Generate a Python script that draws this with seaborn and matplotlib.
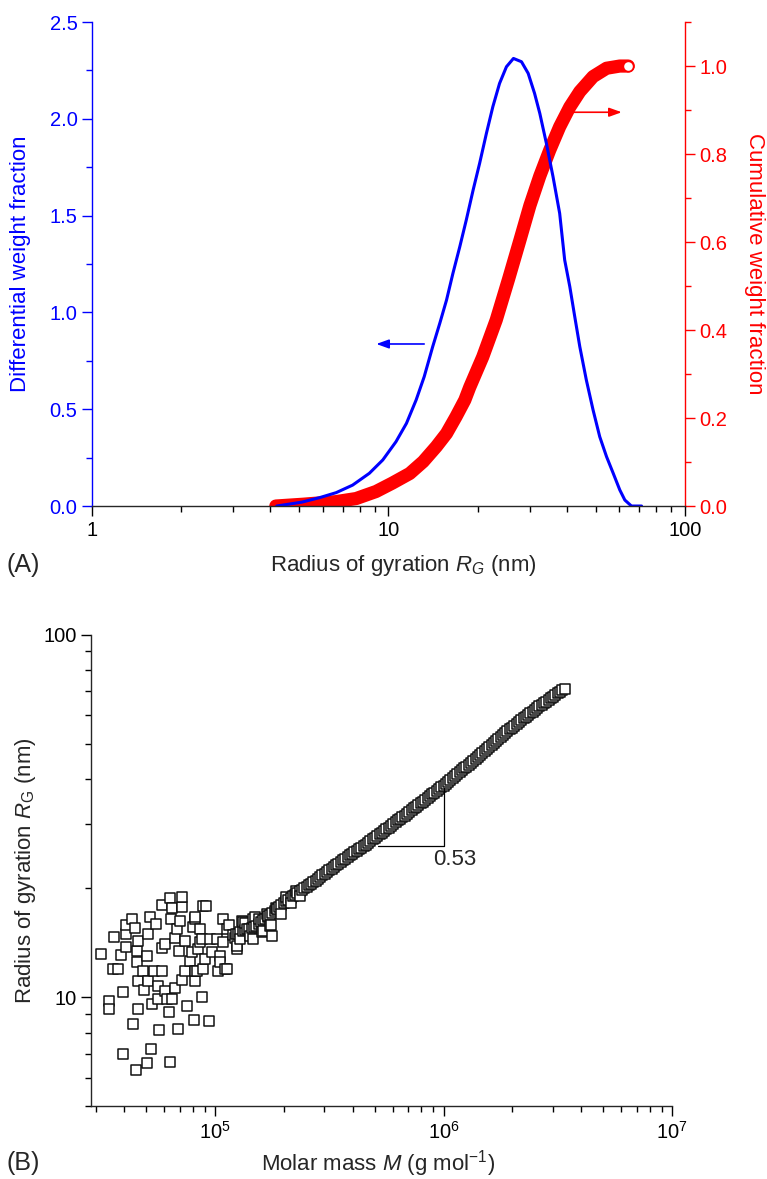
import numpy as np
import pandas as pd
import seaborn as sns
import matplotlib
matplotlib.use('Agg')
from matplotlib import pyplot as plt
from matplotlib import ticker

# (A) size distribution
diff_rg = [4.2, 5.1, 5.85, 6.66, 7.57, 8.62, 9.57, 10.6, 11.5, 12.4,
           13.2, 14.1, 14.9, 15.7, 16.5, 17.4, 18.3, 19.3, 20.3, 21.4,
           22.5, 23.7, 25.0, 26.4, 28.1, 29.6, 31.1, 32.4, 34.1, 35.9,
           37.8, 39.3, 40.9, 42.5, 44.2, 46.5, 49.0, 51.6, 54.4, 57.3,
           60.3, 62.7, 66.0, 71.4]
diff_w = [0.0, 0.02, 0.043, 0.069, 0.108, 0.169, 0.238, 0.332, 0.427, 0.548,
          0.668, 0.823, 0.944, 1.064, 1.202, 1.339, 1.477, 1.632, 1.770, 1.925,
          2.063, 2.183, 2.269, 2.312, 2.295, 2.235, 2.132, 2.028, 1.873, 1.701,
          1.512, 1.271, 1.133, 0.978, 0.823, 0.651, 0.496, 0.358, 0.255, 0.169,
          0.083, 0.031, 0.0, 0.0]
cum_rg = [4.17, 5.13, 6.66, 7.78, 9.08, 10.3, 11.8, 13.1, 14.5, 15.7,
          16.9, 18.1, 18.8, 20.8, 23.1, 25.4, 27.7, 30.0, 32.4, 35.0,
          37.8, 40.9, 44.2, 49.0, 54.4, 60.3, 64.4]
cum_w = [0.0, 0.004, 0.010, 0.017, 0.033, 0.052, 0.074, 0.101, 0.135, 0.165,
         0.203, 0.241, 0.270, 0.339, 0.423, 0.515, 0.602, 0.683, 0.750, 0.809,
         0.862, 0.907, 0.942, 0.976, 0.995, 1.0, 1.0]

# (B) conformation plot: scattered low-mass slices
cloud_mass = [3.15e4, 3.59e4, 3.86e4, 3.58e4, 3.77e4, 3.97e4, 3.42e4, 3.44e4, 4.07e4, 4.07e4,
              4.08e4, 4.31e4, 4.46e4, 4.61e4, 4.56e4, 4.57e4, 4.61e4, 4.90e4, 5.10e4, 5.19e4,
              5.50e4, 5.01e4, 4.82e4, 5.10e4, 5.42e4, 5.84e4, 5.61e4, 6.04e4, 6.14e4, 5.64e4,
              5.31e4, 4.61e4, 4.36e4, 5.67e4, 6.85e4, 6.28e4, 7.51e4, 8.11e4, 8.74e4, 3.96e4,
              4.50e4, 5.05e4, 5.22e4, 6.35e4, 5.84e4, 6.35e4, 7.14e4, 7.14e4, 6.50e4, 6.41e4,
              7.02e4, 6.79e4, 6.68e4, 6.95e4, 5.87e4, 6.04e4, 7.38e4, 8.03e4, 8.17e4, 8.89e4,
              8.74e4, 7.91e4, 7.77e4, 7.38e4, 7.14e4, 8.17e4, 8.17e4, 6.68e4, 6.50e4, 8.59e4,
              8.45e4, 9.04e4,
              9.13e4, 9.4e4, 1.08e5, 1.13e5, 1.02e5, 1.05e5, 1.13e5, 1.03e5, 1.33e5, 1.29e5,
              1.25e5, 1.47e5, 1.47e5, 1.61e5, 1.74e5, 1.87e5, 1.78e5, 8.17e4, 1.31e5, 1.50e5,
              1.71e5, 1.25e5, 1.08e5, 9.5e4, 8.6e4, 9.7e4, 1.05e5, 8.86e4, 8.3e4, 1.10e5,
              1.15e5, 1.22e5, 1.35e5, 1.42e5, 1.56e5, 1.62e5, 1.69e5, 1.76e5, 1.85e5, 1.95e5,
              2.05e5, 2.15e5, 2.25e5, 2.35e5]
cloud_rg = [13.2, 14.7, 13.1, 12.0, 12.0, 10.35, 9.8, 9.26, 13.8, 14.95,
            15.8, 16.4, 15.5, 14.3, 13.4, 12.5, 11.1, 10.45, 14.95, 16.7,
            15.9, 13.0, 11.8, 11.1, 11.8, 11.8, 10.75, 10.4, 9.9, 9.9,
            9.56, 9.26, 8.42, 8.12, 8.2, 9.13, 9.46, 8.65, 10.0, 6.98,
            6.29, 6.6, 7.21, 6.62, 18.0, 18.8, 18.9, 17.8, 17.6, 16.5,
            16.2, 15.4, 14.6, 13.4, 13.7, 14.0, 14.3, 15.6, 16.4, 17.9,
            14.5, 13.3, 12.6, 11.8, 11.2, 11.8, 11.1, 10.6, 9.9, 15.4,
            13.6, 12.8,
            17.9, 8.58, 16.4, 15.4, 14.5, 13.0, 12.0, 11.8, 16.1, 14.5,
            13.6, 14.5, 16.4, 15.1, 15.7, 17.5, 14.8, 16.7, 16.2, 16.7,
            16.8, 13.9, 14.2, 14.5, 14.2, 13.3, 12.5, 12.0, 11.8, 12.0,
            15.8, 14.6, 16.0, 14.8, 16.4, 15.2, 17.0, 15.8, 17.6, 17.0,
            18.9, 18.2, 19.6, 19.0]

# (B) tight power-law band, molar mass in units of 1e5 g/mol
band_mass_e5 = [1.202, 1.230,
                1.259, 1.288, 1.318, 1.349, 1.380, 1.413, 1.445, 1.479, 1.514, 1.549,
                1.585, 1.622, 1.660, 1.698, 1.738, 1.778, 1.820, 1.862, 1.905, 1.950,
                1.995, 2.042, 2.089, 2.138, 2.188, 2.239, 2.291, 2.344, 2.399, 2.455,
                2.512, 2.570, 2.630, 2.692, 2.754, 2.818, 2.884, 2.951, 3.020, 3.090,
                3.162, 3.236, 3.311, 3.388, 3.467, 3.548, 3.631, 3.715, 3.802, 3.890,
                3.981, 4.074, 4.169, 4.266, 4.365, 4.467, 4.571, 4.677, 4.786, 4.898,
                5.012, 5.129, 5.248, 5.370, 5.495, 5.623, 5.754, 5.888, 6.026, 6.166,
                6.310, 6.457, 6.607, 6.761, 6.918, 7.079, 7.244, 7.413, 7.586, 7.762,
                7.943, 8.128, 8.318, 8.511, 8.710, 8.913, 9.120, 9.333, 9.550, 9.772,
                10.00, 10.23, 10.47, 10.72, 10.96, 11.22, 11.48, 11.75, 12.02, 12.30,
                12.59, 12.88, 13.18, 13.49, 13.80, 14.13, 14.45, 14.79, 15.14, 15.49,
                15.85, 16.22, 16.60, 16.98, 17.38, 17.78, 18.20, 18.62, 19.05, 19.50,
                19.95, 20.42, 20.89, 21.38, 21.88, 22.39, 22.91, 23.44, 23.99, 24.55,
                25.12, 25.70, 26.30, 26.92, 27.54, 28.18, 28.84, 29.51, 30.20, 30.90,
                31.62, 32.36, 33.11, 33.88]
band_rg = [14.9, 14.95,
           15.0, 15.1, 15.2, 15.3, 15.4, 15.45, 15.5, 15.6, 15.7, 15.9,
           16.1, 16.3, 16.5, 16.7, 16.9, 17.1, 17.3, 17.55, 17.8, 18.0,
           18.2, 18.4, 18.6, 18.8, 19.0, 19.2, 19.4, 19.6, 19.8, 20.0,
           20.2, 20.4, 20.6, 20.8, 21.0, 21.25, 21.5, 21.7, 21.9, 22.15,
           22.4, 22.65, 22.9, 23.15, 23.4, 23.65, 23.9, 24.15, 24.4, 24.65,
           24.9, 25.15, 25.4, 25.65, 25.9, 26.15, 26.4, 26.7, 27.0, 27.3,
           27.6, 27.9, 28.2, 28.5, 28.8, 29.1, 29.4, 29.75, 30.1, 30.45,
           30.8, 31.1, 31.4, 31.75, 32.1, 32.45, 32.8, 33.2, 33.6, 33.95,
           34.3, 34.7, 35.1, 35.5, 35.9, 36.3, 36.7, 37.1, 37.5, 37.95,
           38.4, 38.85, 39.3, 39.8, 40.3, 40.8, 41.3, 41.8, 42.3, 42.8,
           43.3, 43.85, 44.4, 44.95, 45.5, 46.1, 46.7, 47.25, 47.8, 48.4,
           49.0, 49.65, 50.3, 50.95, 51.6, 52.25, 52.9, 53.55, 54.2, 54.85,
           55.5, 56.2, 56.9, 57.55, 58.2, 58.85, 59.5, 60.15, 60.8, 61.45,
           62.1, 62.8, 63.5, 64.15, 64.8, 65.5, 66.2, 66.9, 67.6, 68.3,
           69.0, 69.7, 70.4, 71.0]

slope_label = '0.53'

BLUE = '#0000ff'
RED = '#ff0000'
TICK_SIZE = 14.5
LABEL_SIZE = 16
PANEL_SIZE = 18

sns.set_style('ticks')
plt.rcParams['font.family'] = ['Liberation Sans', 'DejaVu Sans']
plt.rcParams['mathtext.fontset'] = 'custom'
plt.rcParams['mathtext.rm'] = 'Liberation Sans'
plt.rcParams['mathtext.it'] = 'Liberation Sans:italic'
plt.rcParams['font.size'] = LABEL_SIZE
plt.rcParams['xtick.labelsize'] = TICK_SIZE
plt.rcParams['ytick.labelsize'] = TICK_SIZE
plt.rcParams['axes.labelsize'] = LABEL_SIZE
plt.rcParams['axes.linewidth'] = 1.0

fig = plt.figure(figsize=(7.67, 11.79), dpi=100)

# ---- panel A
ax = fig.add_axes([0.1199, 0.5708, 0.7731, 0.4105])
ax2 = ax.twinx()
ax.set_zorder(2)
ax2.set_zorder(1)
ax.patch.set_visible(False)

sns.lineplot(x=cum_rg, y=cum_w, ax=ax2, color=RED, linewidth=9.5, errorbar=None,
             solid_capstyle='round', solid_joinstyle='round')
sns.scatterplot(x=cum_rg[-1:], y=cum_w[-1:], ax=ax2, marker='o', s=55, color='white',
                edgecolor=RED, linewidth=1.2, zorder=5)
sns.lineplot(x=diff_rg, y=diff_w, ax=ax, color=BLUE, linewidth=2.2, errorbar=None,
             solid_joinstyle='round')

ax.set_xscale('log')
ax.set_xlim(1, 100)
ax.set_ylim(0, 2.5)
ax2.set_ylim(0, 1.1)

ax.xaxis.set_major_locator(ticker.LogLocator(base=10))
ax.xaxis.set_major_formatter(ticker.FuncFormatter(lambda v, p: f'{v:g}'))
ax.xaxis.set_minor_locator(ticker.LogLocator(base=10, subs=np.arange(2, 10)))
ax.xaxis.set_minor_formatter(ticker.NullFormatter())
ax.yaxis.set_major_locator(ticker.MultipleLocator(0.5))
ax.yaxis.set_minor_locator(ticker.MultipleLocator(0.25))
ax.yaxis.set_major_formatter(ticker.FormatStrFormatter('%.1f'))
ax2.yaxis.set_major_locator(ticker.MultipleLocator(0.2))
ax2.yaxis.set_minor_locator(ticker.MultipleLocator(0.1))
ax2.yaxis.set_major_formatter(ticker.FormatStrFormatter('%.1f'))

for a in (ax, ax2):
    a.tick_params(which='major', direction='out', length=7, width=1)
    a.tick_params(which='minor', direction='out', length=4, width=1)
ax.tick_params(axis='y', which='both', colors=BLUE)
ax2.tick_params(axis='y', which='both', colors=RED)
ax.tick_params(axis='x', which='both', colors='black')

ax.spines['top'].set_visible(False)
ax.spines['right'].set_visible(False)
ax.spines['left'].set_color(BLUE)
for s in ('top', 'left', 'bottom'):
    ax2.spines[s].set_visible(False)
ax2.spines['right'].set_color(RED)

ax.set_ylabel('Differential weight fraction', color=BLUE, va='center')
ax.yaxis.set_label_coords(-0.121, 0.5)
ax2.set_ylabel('Cumulative weight fraction', color=RED, rotation=270, va='center')
ax2.yaxis.set_label_coords(1.118, 0.5)
ax.set_xlabel('Radius of gyration $R_G$ (nm)', va='center')
ax.xaxis.set_label_coords(0.526, -0.122)

ax.annotate('', xy=(9.1, 0.837), xytext=(13.2, 0.837),
            arrowprops=dict(arrowstyle='-|>,head_length=0.5,head_width=0.18', color=BLUE,
                            lw=1.2, shrinkA=0, shrinkB=0, mutation_scale=15))
ax2.annotate('', xy=(61.2, 0.895), xytext=(41.9, 0.895),
             arrowprops=dict(arrowstyle='-|>,head_length=0.5,head_width=0.18', color=RED,
                             lw=1.2, shrinkA=0, shrinkB=0, mutation_scale=15))

fig.text(7 / 767, 1 - 565 / 1179, '(A)', va='center', ha='left', fontsize=PANEL_SIZE)

# ---- panel B
bx = fig.add_axes([0.1186, 0.0615, 0.7575, 0.400])
points = pd.DataFrame({
    'mass': cloud_mass + [m * 1e5 for m in band_mass_e5],
    'rg': cloud_rg + band_rg,
}).sort_values('mass')
sns.scatterplot(data=points, x='mass', y='rg', ax=bx, marker='s', s=55, color='white',
                edgecolor='#111111', linewidth=1.1)

bx.set_xscale('log')
bx.set_yscale('log')
bx.set_xlim(2.86e4, 1e7)
bx.set_ylim(5, 100)

bx.xaxis.set_major_locator(ticker.LogLocator(base=10))
bx.xaxis.set_major_formatter(ticker.LogFormatterSciNotation())
bx.xaxis.set_minor_locator(ticker.LogLocator(base=10, subs=np.arange(2, 10)))
bx.xaxis.set_minor_formatter(ticker.NullFormatter())
bx.yaxis.set_major_locator(ticker.FixedLocator([10, 100]))
bx.yaxis.set_major_formatter(ticker.FuncFormatter(lambda v, p: f'{v:g}'))
bx.yaxis.set_minor_locator(ticker.LogLocator(base=10, subs=np.arange(2, 10)))
bx.yaxis.set_minor_formatter(ticker.NullFormatter())
bx.tick_params(which='major', direction='out', length=7, width=1, colors='black')
bx.tick_params(which='minor', direction='out', length=4, width=1, colors='black')
bx.spines['top'].set_visible(False)
bx.spines['right'].set_visible(False)

bx.set_xlabel('Molar mass $M$ (g mol$^{-1}$)', va='center')
bx.xaxis.set_label_coords(0.494, -0.12)
bx.set_ylabel('Radius of gyration $R_{\\mathrm{G}}$ (nm)', va='center')
bx.yaxis.set_label_coords(-0.112, 0.5)

# slope triangle
bx.plot([5.19e5, 1e6, 1e6], [26.2, 26.2, 37.7], color='black', lw=0.9)
bx.text(9.0e5, 24.0, slope_label, ha='left', va='center', fontsize=LABEL_SIZE)

fig.text(7 / 767, 1 - 1163 / 1179, '(B)', va='center', ha='left', fontsize=PANEL_SIZE)

fig.savefig('out.png', dpi=100)
